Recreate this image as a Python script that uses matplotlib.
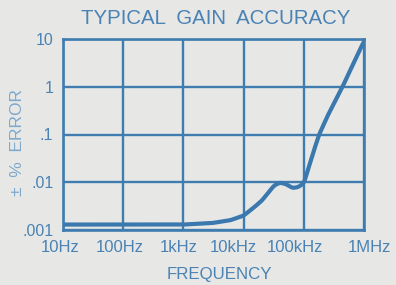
import matplotlib
matplotlib.use("Agg")
import matplotlib.pyplot as plt
import matplotlib.transforms as mtransforms
import numpy as np

COLOUR_BG = "#e7e8e6"
COLOUR_LINE = "#3a78ae"
COLOUR_GRID = "#3f7cb0"
COLOUR_TEXT = "#4a82b4"
COLOUR_YLABEL = "#7ea8cc"

freqHz = [10, 30, 100, 300, 1000, 3000, 6000, 10000, 15000, 20000,
          25000, 32000, 40000, 50000, 65000, 80000, 100000, 120000, 150000,
          180000, 250000, 440000, 700000, 1000000]
errorPct = [0.0013, 0.0013, 0.0013, 0.0013, 0.0013, 0.0014, 0.0016, 0.002,
            0.003, 0.0041, 0.0058, 0.0085, 0.0098, 0.0092, 0.0076, 0.0079,
            0.0095, 0.02, 0.05, 0.1, 0.25, 1.0, 3.5, 9.0]

xTicks = [10, 100, 1000, 10000, 100000, 1000000]
xLabels = ["10Hz", "100Hz", "1kHz", "10kHz", "100kHz", "1MHz"]
xLabelShift = [-2.5, -3, -4.5, -10, -9, 5]   # pixels, labels are squeezed in the original
yTicks = [0.001, 0.01, 0.1, 1, 10]
yLabels = [".001", ".01", ".1", "1", "10"]

plt.rcParams["font.family"] = ["Liberation Sans", "DejaVu Sans"]

fig = plt.figure(figsize=(3.96, 2.85), dpi=100)
fig.patch.set_facecolor(COLOUR_BG)
ax = fig.add_axes([63 / 396, 1 - 230 / 285, 301 / 396, 191 / 285])
ax.set_facecolor(COLOUR_BG)

# light smoothing of the curve in log-log space
lx = np.log10(freqHz)
ly = np.log10(errorPct)
fineX = np.linspace(lx[0], lx[-1], 600)
fineY = np.interp(fineX, lx, ly)
k = 7
padded = np.concatenate([np.full(k // 2, fineY[0]), fineY, np.full(k // 2, fineY[-1])])
fineY = np.convolve(padded, np.ones(k) / k, mode="valid")
ax.plot(10 ** fineX, 10 ** fineY, color=COLOUR_LINE, linewidth=3.0,
        solid_capstyle="round", zorder=3)

ax.set_xscale("log")
ax.set_yscale("log")
ax.set_xlim(10, 1000000)
ax.set_ylim(0.001, 10)
ax.set_xticks(xTicks)
ax.set_xticklabels([])
ax.set_yticks(yTicks)
ax.set_yticklabels(yLabels)
ax.minorticks_off()
ax.grid(True, color=COLOUR_GRID, linewidth=1.7)
ax.tick_params(length=0, colors=COLOUR_TEXT, labelsize=11.5, pad=7)
for spine in ax.spines.values():
    spine.set_color(COLOUR_GRID)
    spine.set_linewidth(1.9)

base = mtransforms.blended_transform_factory(ax.transData, fig.transFigure)
for x, lab, dx in zip(xTicks, xLabels, xLabelShift):
    tr = base + mtransforms.ScaledTranslation(dx / 100, 0, fig.dpi_scale_trans)
    ax.text(x, 1 - 248 / 285, lab, transform=tr, ha="center", va="center",
            color=COLOUR_TEXT, fontsize=12, clip_on=False)

fig.text(216 / 396, 1 - 18 / 285, "TYPICAL  GAIN  ACCURACY", ha="center",
         va="center", color=COLOUR_TEXT, fontsize=14.7)
fig.text(219 / 396, 1 - 274 / 285, "FREQUENCY", ha="center",
         va="center", color=COLOUR_TEXT, fontsize=12.2)
fig.text(18 / 396, 1 - 142 / 285, "±  %  ERROR", ha="center",
         va="center", rotation=90, color=COLOUR_YLABEL, fontsize=12.5)

fig.savefig("out.png", dpi=100, facecolor=COLOUR_BG)
